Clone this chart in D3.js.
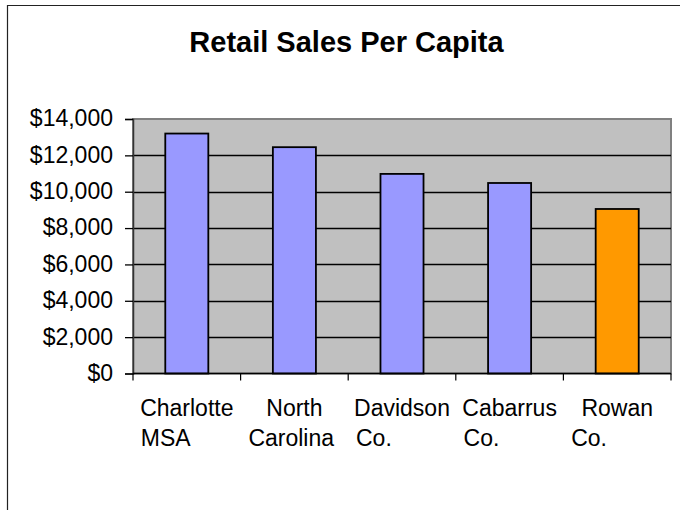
<!DOCTYPE html>
<html>
<head>
<meta charset="utf-8">
<script src="https://cdn.jsdelivr.net/npm/d3@7"></script>
<style>
  html, body { margin: 0; padding: 0; background: #fff; overflow: hidden; }
  svg { display: block; font-family: "Liberation Sans", Arial, sans-serif; }
</style>
</head>
<body>
<svg id="chart" width="680" height="510"></svg>
<script>
// Retail sales per capita by area
const areas = ["Charlotte MSA", "North Carolina", "Davidson Co.", "Cabarrus Co.", "Rowan Co."];
const labelLines = [["Charlotte", "MSA"], ["North", "Carolina"], ["Davidson", "Co."], ["Cabarrus", "Co."], ["Rowan", "Co."]];
const salesPerCapita = [13200, 12450, 10980, 10480, 9050];
const barColors = ["#9999FF", "#9999FF", "#9999FF", "#9999FF", "#FF9900"];
const yTicks = [0, 2000, 4000, 6000, 8000, 10000, 12000, 14000];
const titleText = "Retail Sales Per Capita";

const svg = d3.select("#chart");
const plot = { left: 133, right: 671, top: 119, bottom: 373.5 };

// chart frame: only its top and left edges fall inside the view
svg.append("line")
  .attr("x1", 7.5).attr("x2", 7.5).attr("y1", 5).attr("y2", 510)
  .attr("stroke", "#222").attr("stroke-width", 1.2);
svg.append("line")
  .attr("x1", 7).attr("x2", 680).attr("y1", 5.5).attr("y2", 5.5)
  .attr("stroke", "#222").attr("stroke-width", 1.2);

svg.append("text")
  .attr("x", 346.5).attr("y", 52)
  .attr("text-anchor", "middle")
  .attr("font-weight", "bold")
  .attr("font-size", 29)
  .text(titleText);

const x = d3.scaleBand()
  .domain(areas)
  .range([plot.left, plot.right])
  .paddingInner(0.6)
  .paddingOuter(0.3);

const y = d3.scaleLinear()
  .domain([0, 14000])
  .range([plot.bottom, plot.top]);

// plot background
svg.append("rect")
  .attr("x", plot.left).attr("y", plot.top)
  .attr("width", plot.right - plot.left).attr("height", plot.bottom - plot.top)
  .attr("fill", "#C0C0C0").attr("stroke", "#808080").attr("stroke-width", 2);

// horizontal gridlines
svg.append("g")
  .selectAll("line")
  .data(yTicks.filter(d => d > 0 && d < 14000))
  .join("line")
  .attr("x1", plot.left).attr("x2", plot.right)
  .attr("y1", d => Math.round(y(d)) + 0.5).attr("y2", d => Math.round(y(d)) + 0.5)
  .attr("stroke", "#000").attr("stroke-width", 1.3);

// bars
svg.append("g")
  .selectAll("rect")
  .data(areas)
  .join("rect")
  .attr("x", d => x(d))
  .attr("y", (d, i) => y(salesPerCapita[i]))
  .attr("width", x.bandwidth())
  .attr("height", (d, i) => y(0) - y(salesPerCapita[i]))
  .attr("fill", (d, i) => barColors[i])
  .attr("stroke", "#000").attr("stroke-width", 1.8);

// y axis
const yAxis = d3.axisLeft(y)
  .tickValues(yTicks)
  .tickSize(8)
  .tickPadding(12)
  .tickFormat(d => "$" + d3.format(",")(d));

const gy = svg.append("g")
  .attr("transform", `translate(${plot.left},0)`)
  .call(yAxis);
gy.select(".domain").attr("stroke", "#333").attr("stroke-width", 1.5);
gy.selectAll(".tick line").attr("stroke", "#000").attr("stroke-width", 1.3);
gy.selectAll(".tick text")
  .attr("font-size", 23)
  .attr("font-family", "Liberation Sans, Arial, sans-serif")
  .attr("fill", "#000")
  .attr("dy", "0.3em");

// x axis baseline and category separators
const gx = svg.append("g");
gx.append("line")
  .attr("x1", plot.left).attr("x2", plot.right)
  .attr("y1", plot.bottom).attr("y2", plot.bottom)
  .attr("stroke", "#000").attr("stroke-width", 1.5);
gx.selectAll("line.sep")
  .data(areas.map((a, i) => plot.left + i * x.step()).concat([plot.right]))
  .join("line")
  .attr("class", "sep")
  .attr("x1", d => d).attr("x2", d => d)
  .attr("y1", plot.bottom).attr("y2", plot.bottom + 7)
  .attr("stroke", "#000").attr("stroke-width", 1.2);

// category labels: first line centred on the bar, second line starts at the label box edge
const labels = svg.append("g")
  .attr("font-size", 23)
  .attr("fill", "#000");
areas.forEach((a, i) => {
  const cx = x(a) + x.bandwidth() / 2;
  labels.append("text")
    .attr("x", cx).attr("y", 416)
    .attr("text-anchor", "middle")
    .text(labelLines[i][0]);
  labels.append("text")
    .attr("x", cx - 46).attr("y", 446)
    .attr("text-anchor", "start")
    .text(labelLines[i][1]);
});
</script>
</body>
</html>
